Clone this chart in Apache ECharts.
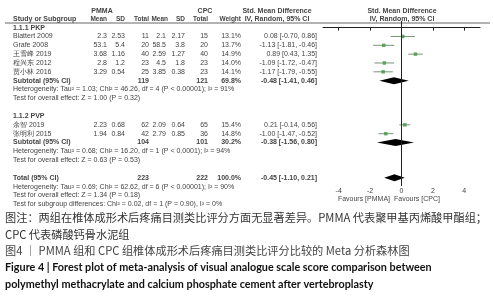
<!DOCTYPE html>
<html>
<head>
<meta charset="utf-8">
<script src="https://cdn.jsdelivr.net/npm/echarts@6/dist/echarts.min.js"></script>
<style>
  html, body { margin: 0; padding: 0; background: #fff; }
  #chart { width: 493px; height: 300px; }
</style>
</head>
<body>
<div id="chart"></div>
<script>
/* ---- data ---- */
const studies   = ["Blattert 2009", "Grafe 2008", "王雪峰 2019", "程兴东 2012", "贾小林 2016", "余智 2019", "张明利 2015"];
const pmmaMean  = [2.3, 53.1, 3.68, 2.8, 3.29, 2.23, 1.94];
const pmmaSD    = [2.53, 5.4, 1.16, 1.2, 0.54, 0.68, 0.84];
const pmmaN     = [11, 20, 40, 23, 25, 62, 42];
const cpcMean   = [2.1, 58.5, 2.59, 4.5, 3.85, 2.09, 2.79];
const cpcSD     = [2.17, 3.8, 1.27, 1.8, 0.38, 0.64, 0.85];
const cpcN      = [15, 20, 40, 23, 23, 65, 36];
const weights   = ["13.1%", "13.7%", "14.9%", "14.0%", "14.1%", "15.4%", "14.8%"];
const smd       = [0.08, -1.13, 0.89, -1.09, -1.17, 0.21, -1.00];
const smdLow    = [-0.70, -1.81, 0.43, -1.72, -1.79, -0.14, -1.47];
const smdHigh   = [0.86, -0.46, 1.35, -0.47, -0.55, 0.56, -0.52];

const subgroups     = ["1.1.1 PKP", "1.1.2 PVP"];
const subPmmaN      = [119, 104];
const subCpcN       = [121, 101];
const subWeight     = ["69.8%", "30.2%"];
const subSmd        = [-0.48, -0.38];
const subLow        = [-1.41, -1.56];
const subHigh       = [0.46, 0.80];
const subHetero     = [
  "Heterogeneity: Tau² = 1.03; Chi² = 46.26, df = 4 (P < 0.00001); I² = 91%",
  "Heterogeneity: Tau² = 0.68; Chi² = 16.20, df = 1 (P < 0.0001); I² = 94%"
];
const subEffect     = ["Test for overall effect: Z = 1.00 (P = 0.32)", "Test for overall effect: Z = 0.63 (P = 0.53)"];

const totalN        = [223, 222];
const totalSmd      = -0.45;
const totalLow      = -1.10;
const totalHigh     = 0.21;
const totalHetero   = "Heterogeneity: Tau² = 0.69; Chi² = 62.62, df = 6 (P < 0.00001); I² = 90%";
const totalEffect   = "Test for overall effect: Z = 1.34 (P = 0.18)";
const subgroupTest  = "Test for subgroup differences: Chi² = 0.02, df = 1 (P = 0.90), I² = 0%";

const xTicks = [-4, -2, 0, 2, 4];

const captions = [
  "图注：两组在椎体成形术后疼痛目测类比评分方面无显著差异。PMMA 代表聚甲基丙烯酸甲酯组；",
  "CPC 代表磷酸钙骨水泥组",
  "图4 ｜ PMMA 组和 CPC 组椎体成形术后疼痛目测类比评分比较的 Meta 分析森林图",
  "Figure 4 | Forest plot of meta-analysis of visual analogue scale score comparison between",
  "polymethyl methacrylate and calcium phosphate cement after vertebroplasty"
];

/* ---- layout ---- */
const studyRows = [1, 2, 3, 4, 5, 11, 12];
const headRows  = [0, 10];
const subRows   = [6, 13];
const TOTAL_ROW = 17;
const GRID_TOP = 21, GRID_H = 165, Y_MIN = -0.75, Y_MAX = 17.92;
const rowY = r => GRID_TOP + (r - Y_MIN) / (Y_MAX - Y_MIN) * GRID_H;

const FONT = '"Liberation Sans", Arial, sans-serif';
const INK = "#444";
const fmt = v => v.toFixed(2);
const ci = (m, l, h) => `${fmt(m)} [${fmt(l)}, ${fmt(h)}]`;

function txt(s, x, y, opt) {
  return {
    type: "text", x, y, silent: true,
    style: Object.assign({ text: s, fontSize: 7, fontFamily: FONT, fill: INK, align: "left", verticalAlign: "middle" }, opt || {})
  };
}
const R = { align: "right" };
const B = { fontWeight: "bold" };
const RB = { align: "right", fontWeight: "bold" };
const RH = { align: "right", fontWeight: "bold", fontSize: 6.5 };

// column right edges
const COL = { pm: 107, psd: 125, pn: 149, cm: 166, csd: 185, cn: 208, w: 241, ci: 317 };

const g = [];
// headers
g.push(txt("PMMA", 102, 11, { align: "center", fontWeight: "bold" }));
g.push(txt("CPC", 205, 11, { align: "center", fontWeight: "bold" }));
g.push(txt("Std. Mean Difference", 277, 11, { align: "center", fontWeight: "bold" }));
g.push(txt("Std. Mean Difference", 402, 11, { align: "center", fontWeight: "bold" }));
g.push(txt("Study or Subgroup", 13, 19, B));
g.push(txt("Mean", COL.pm, 19, RH));
g.push(txt("SD", COL.psd, 19, RH));
g.push(txt("Total", COL.pn, 19, RH));
g.push(txt("Mean", COL.cm + 2, 19, RH));
g.push(txt("SD", COL.csd, 19, RH));
g.push(txt("Total", COL.cn, 19, RH));
g.push(txt("Weight", COL.w, 19, RH));
g.push(txt("IV, Random, 95% CI", 277, 19, { align: "center", fontWeight: "bold" }));
g.push(txt("IV, Random, 95% CI", 402, 19, { align: "center", fontWeight: "bold" }));
g.push({ type: "line", silent: true, shape: { x1: 5, y1: 23, x2: 490, y2: 23 }, style: { stroke: "#666", lineWidth: 1 } });

studies.forEach((s, i) => {
  const y = rowY(studyRows[i]);
  g.push(txt(s, 13, y));
  g.push(txt(String(pmmaMean[i]), COL.pm, y, R));
  g.push(txt(String(pmmaSD[i]), COL.psd, y, R));
  g.push(txt(String(pmmaN[i]), COL.pn, y, R));
  g.push(txt(String(cpcMean[i]), COL.cm, y, R));
  g.push(txt(String(cpcSD[i]), COL.csd, y, R));
  g.push(txt(String(cpcN[i]), COL.cn, y, R));
  g.push(txt(weights[i], COL.w, y, R));
  g.push(txt(ci(smd[i], smdLow[i], smdHigh[i]), COL.ci, y, R));
});

subgroups.forEach((s, k) => {
  g.push(txt(s, 13, rowY(headRows[k]), B));
  const y = rowY(subRows[k]);
  g.push(txt("Subtotal (95% CI)", 13, y, B));
  g.push(txt(String(subPmmaN[k]), COL.pn, y, RB));
  g.push(txt(String(subCpcN[k]), COL.cn, y, RB));
  g.push(txt(subWeight[k], COL.w, y, RB));
  g.push(txt(ci(subSmd[k], subLow[k], subHigh[k]), COL.ci, y, RB));
  g.push(txt(subHetero[k], 13, rowY(subRows[k] + 1)));
  g.push(txt(subEffect[k], 13, rowY(subRows[k] + 2)));
});

const ty = rowY(TOTAL_ROW);
g.push(txt("Total (95% CI)", 13, ty, B));
g.push(txt(String(totalN[0]), COL.pn, ty, RB));
g.push(txt(String(totalN[1]), COL.cn, ty, RB));
g.push(txt("100.0%", COL.w, ty, RB));
g.push(txt(ci(totalSmd, totalLow, totalHigh), COL.ci, ty, RB));
g.push(txt(totalHetero, 13, rowY(TOTAL_ROW + 1)));
g.push(txt(totalEffect, 13, rowY(TOTAL_ROW + 2)));
g.push(txt(subgroupTest, 13, rowY(TOTAL_ROW + 3)));

g.push(txt("Favours [PMMA]", 390, 199, R));
g.push(txt("Favours [CPC]", 394, 199));

// captions
const CJK = '"Noto Sans CJK SC", "Noto Sans", sans-serif';
const EN = 'Lato, "Noto Sans", sans-serif';
g.push(txt(captions[0], 5, 218, { fontSize: 11.2, fontFamily: CJK, fill: "#333" }));
g.push(txt(captions[1], 5, 235, { fontSize: 11.2, fontFamily: CJK, fill: "#333" }));
g.push(txt(captions[2], 5, 251, { fontSize: 11.2, fontFamily: CJK, fill: "#444" }));
g.push(txt(captions[3], 5, 268, { fontSize: 10.8, fontFamily: EN, fontWeight: "bold", fill: "#111" }));
g.push(txt(captions[4], 5, 285, { fontSize: 10.8, fontFamily: EN, fontWeight: "bold", fill: "#111" }));

/* ---- chart ---- */
const chart = echarts.init(document.getElementById("chart"), null, { renderer: "canvas" });

const ciData = studies.map((s, i) => [smdLow[i], smdHigh[i], studyRows[i]]);
const pointData = studies.map((s, i) => [smd[i], studyRows[i]]);
const diamondData = [
  [subLow[0], subSmd[0], subHigh[0], subRows[0]],
  [subLow[1], subSmd[1], subHigh[1], subRows[1]],
  [totalLow, totalSmd, totalHigh, TOTAL_ROW]
];

chart.setOption({
  animation: false,
  grid: { left: 323, width: 157, top: GRID_TOP, height: GRID_H },
  xAxis: {
    type: "value", min: -5, max: 5,
    splitLine: { show: false },
    axisLine: { lineStyle: { color: "#222", width: 1 } },
    axisTick: { length: 3, customValues: xTicks, lineStyle: { color: "#222" } },
    axisLabel: { customValues: xTicks, fontSize: 7, fontFamily: FONT, color: INK, margin: 2 }
  },
  yAxis: { type: "value", inverse: true, min: Y_MIN, max: Y_MAX, show: false },
  series: [
    {
      type: "custom",
      data: ciData,
      renderItem: (params, api) => {
        const a = api.coord([api.value(0), api.value(2)]);
        const b = api.coord([api.value(1), api.value(2)]);
        return { type: "line", shape: { x1: a[0], y1: a[1], x2: b[0], y2: b[1] }, style: { stroke: "#7a937a", lineWidth: 1 } };
      }
    },
    {
      type: "scatter",
      data: pointData,
      symbol: "rect",
      symbolSize: 3.5,
      itemStyle: { color: "#3f9a3f" },
      markLine: {
        silent: true, symbol: "none", label: { show: false },
        lineStyle: { color: "#222", width: 1, type: "solid" },
        data: [{ xAxis: 0 }]
      }
    },
    {
      type: "custom",
      data: diamondData,
      renderItem: (params, api) => {
        const r = api.value(3);
        const l = api.coord([api.value(0), r]);
        const m = api.coord([api.value(1), r]);
        const h = api.coord([api.value(2), r]);
        return {
          type: "polygon",
          shape: { points: [l, [m[0], m[1] - 3.5], h, [m[0], m[1] + 3.5]] },
          style: { fill: "#000" }
        };
      }
    }
  ],
  graphic: g
});
</script>
</body>
</html>
